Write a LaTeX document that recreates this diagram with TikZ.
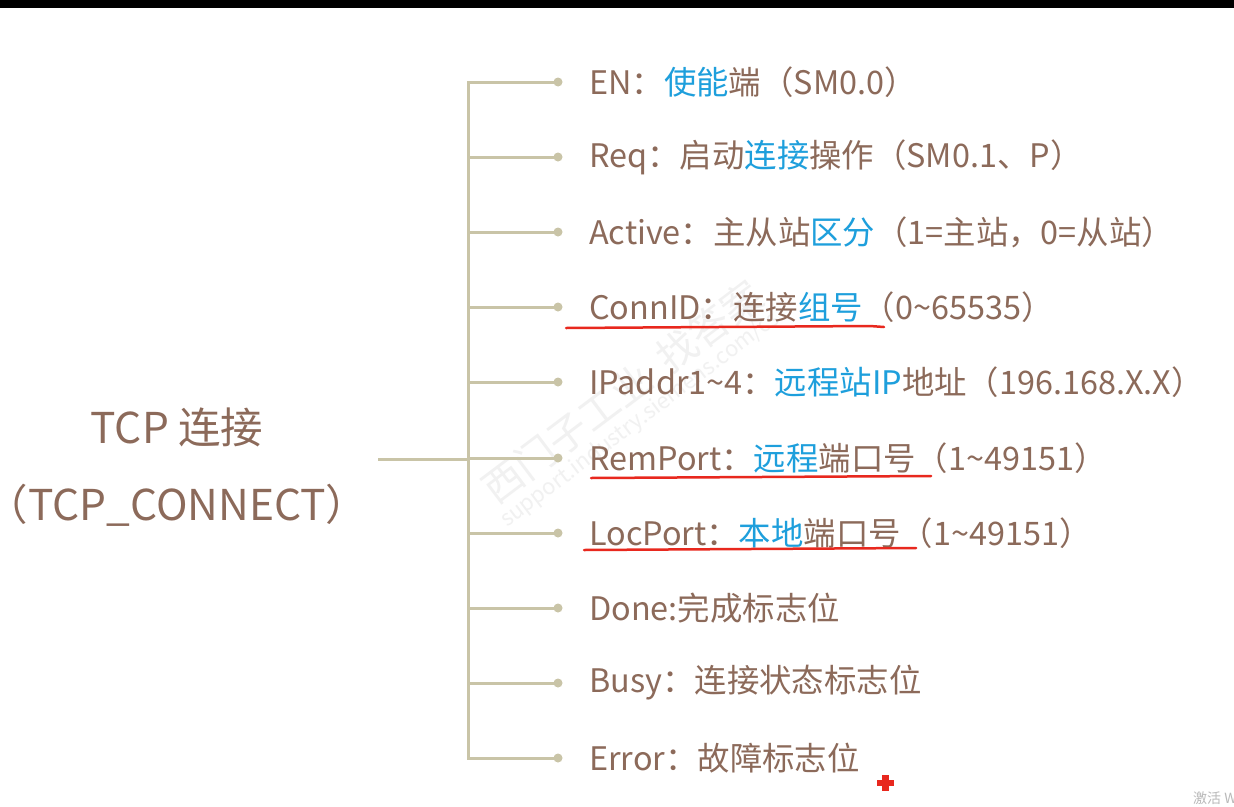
\documentclass[tikz,border=0pt]{standalone}
\usepackage{fontspec}
\setmainfont{Noto Sans CJK SC}
\definecolor{txtbrown}{HTML}{8C6A5A}
\definecolor{hlblue}{HTML}{1E9FDC}
\definecolor{treeline}{HTML}{C9C4A7}
\definecolor{markred}{HTML}{E8281E}
\newcommand{\hl}[1]{\textcolor{hlblue}{#1}}
\newcommand{\tl}{\textasciitilde}
\tikzset{
  item/.style={anchor=west, inner sep=0pt, text=txtbrown, font=\fontsize{32.4}{38}\selectfont},
  rootlabel/.style={inner sep=0pt, text=txtbrown, align=center, font=\fontsize{42.5}{77}\selectfont},
  branch/.style={draw=treeline, line width=3pt},
  enddot/.style={circle, fill=treeline, minimum size=9pt, inner sep=0pt},
  redline/.style={draw=markred, line width=2.5pt, line cap=round},
  wmark/.style={text=gray!11, rotate=37, inner sep=0pt}
}
\begin{document}
\begin{tikzpicture}[x=1pt,y=-1pt]
\useasboundingbox (0,0) rectangle (1234,806);
\fill[white] (0,0) rectangle (1234,806);
\fill[black] (0,0) rectangle (1234,8);
% watermark
\node[wmark, font=\fontsize{40}{44}\selectfont] (wm1) at (622,392) {西门子工业\ \ 找答案};
\node[wmark, font=\fontsize{22}{26}\selectfont] (wm2) at (640,420) {support.industry.siemens.com/cs};
% root
\node[rootlabel] (root) at (177,467) {TCP 连接\\（TCP\_CONNECT）};
\coordinate (r) at (378,459);
\coordinate (j) at (468,459);
% rows
\foreach \i/\y in {1/82,2/157,3/232,4/307,5/382,6/458,7/533,8/608,9/683,10/758}{
  \coordinate (b\i) at (468,\y);
  \node[enddot] (d\i) at (558,\y) {};
}
\draw[branch] (r) -- (j);
\draw[branch, line cap=rect] (b1) -- (b10);
\foreach \i in {1,...,10}{ \draw[branch] (b\i) -- (d\i.center); }
% labels
\node[item] (l1) at (589,82) {EN：\hl{使能}端（SM0.0）};
\node[item] (l2) at (589,157) {Req：启动\hl{连接}操作（SM0.1、P）};
\node[item] (l3) at (589,232) {Active：主从站\hl{区分}（1=主站，0=从站）};
\node[item] (l4) at (589,307) {ConnID：连接\hl{组号}（0\tl 65535）};
\node[item] (l5) at (589,382) {IPaddr1\tl 4：\hl{远程站IP}地址（196.168.X.X）};
\node[item] (l6) at (589,458) {RemPort：\hl{远程}端口号（1\tl 49151）};
\node[item] (l7) at (589,533) {LocPort：\hl{本地}端口号（1\tl 49151）};
\node[item] (l8) at (589,608) {Done:完成标志位};
\node[item] (l9) at (589,683) {Busy：连接状态标志位};
\node[item] (l10) at (589,758) {Error：故障标志位};
% red underlines
\draw[redline] (566,328) -- (870,326) -- (884,327);
\draw[redline] (591,478) -- (931,476);
\draw[redline] (584,550) -- (916,548);
% red cross
\fill[markred] (882,775) rectangle (889,791);
\fill[markred] (877,780) rectangle (894,786);
% system text
\node[anchor=west, inner sep=0pt, text=gray!55, font=\fontsize{14}{16}\selectfont] (sys) at (1193,798) {激活 W};
\end{tikzpicture}
\end{document}
